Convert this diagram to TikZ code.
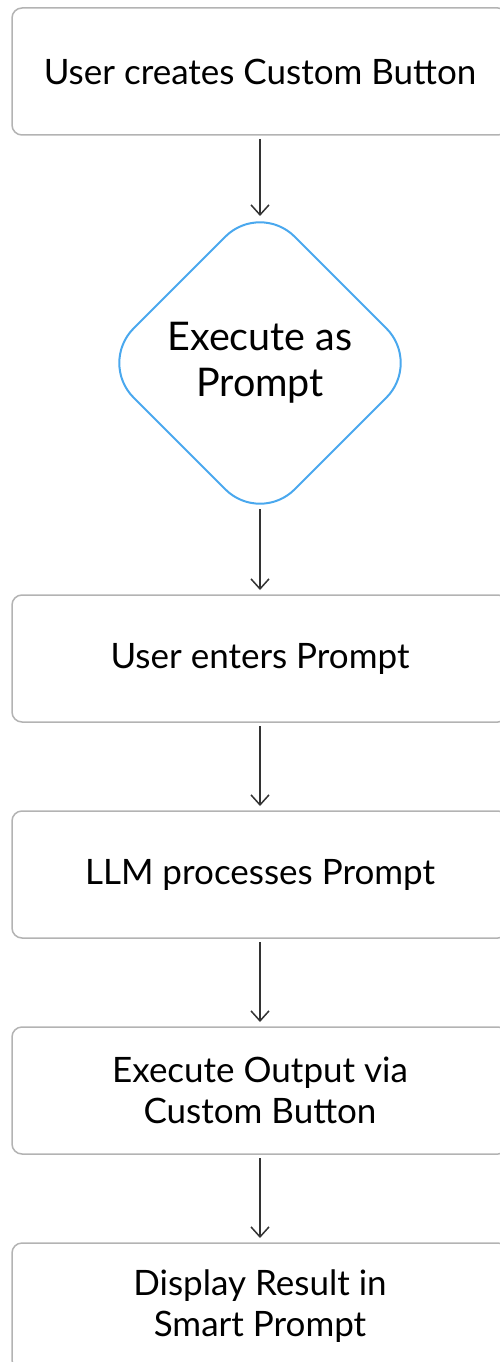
\documentclass[tikz,border=0pt]{standalone}
\usepackage{fontspec}
\setmainfont{Lato}
\usetikzlibrary{positioning,shapes.geometric,arrows.meta}
\definecolor{boxgray}{HTML}{B3B3B3}
\definecolor{decblue}{HTML}{4AA8EE}
\definecolor{arrowgray}{HTML}{333333}

\begin{document}
\begin{tikzpicture}[
			x=1pt, y=1pt,
			% Define styles for nodes
			box/.style={draw=boxgray, line width=1.5pt, rectangle, rounded corners=10pt, align=center, minimum width=496pt, minimum height=127pt, inner sep=0pt, outer sep=0pt, font=\fontsize{35}{41}\selectfont},
			decision/.style={draw=decblue, line width=2pt, diamond, aspect=1, rounded corners=49pt, align=center, minimum width=322pt, minimum height=322pt, inner sep=0pt, outer sep=0pt, font=\fontsize{39.5}{46}\selectfont},
			flow/.style={draw=arrowgray, line width=1.5pt, -{Straight Barb[length=10pt,width=18pt]}, shorten <=4pt, shorten >=5pt}
		]

		\useasboundingbox (0,0) rectangle (499,-1362);

		% Steps
		\node[box] (create) at (260,-71.5) {User creates Custom Button};
		\node[decision, below=67pt of create] (exec) {Execute as\\Prompt};
		\node[box, below=71pt of exec] (enter) {User enters Prompt};
		\node[box, below=89pt of enter] (llm) {LLM processes Prompt};
		\node[box, below=89pt of llm] (output) {Execute Output via\\Custom Button};
		\node[box, below=89pt of output] (result) {Display Result in\\Smart Prompt};

		% Connectors
		\draw[flow, shorten >=-14pt] (create) -- (exec);
		\draw[flow, shorten <=-15pt] (exec) -- (enter);
		\draw[flow] (enter) -- (llm);
		\draw[flow] (llm) -- (output);
		\draw[flow] (output) -- (result);
	\end{tikzpicture}
\end{document}
